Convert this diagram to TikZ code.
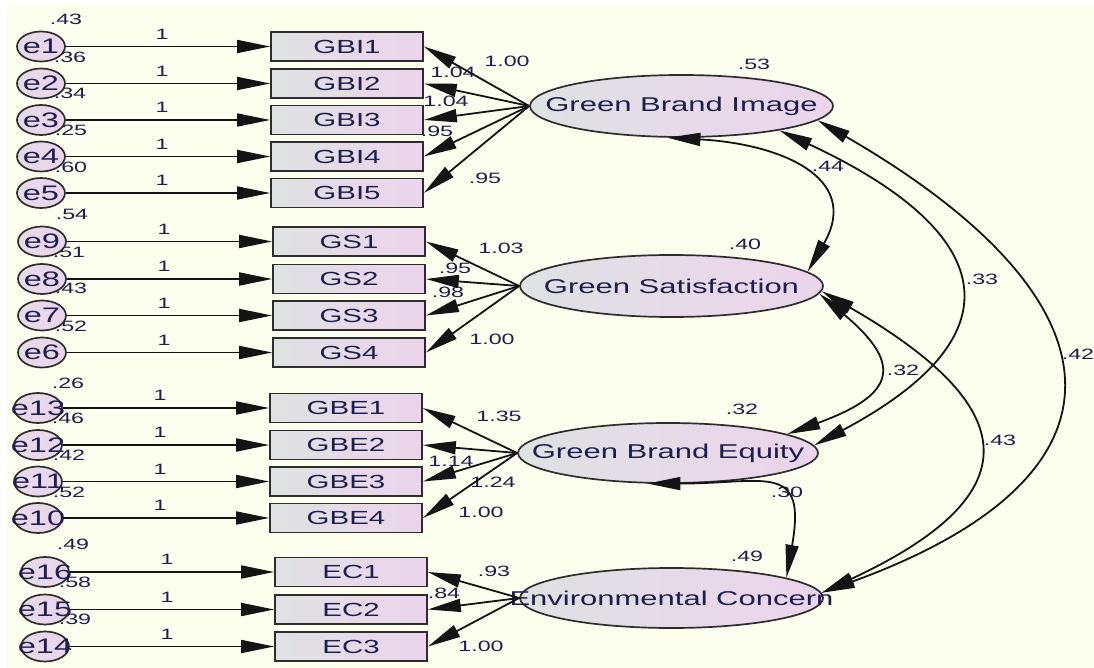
\documentclass[tikz,border=0pt]{standalone}
\usepackage{fontspec}
\setmainfont{Liberation Sans}[FakeStretch=1.55]
\usetikzlibrary{arrows.meta,shapes.geometric}
\definecolor{bg}{RGB}{253,255,238}
\definecolor{lc}{RGB}{20,20,20}
\definecolor{tc}{RGB}{30,30,80}
\definecolor{bxL}{RGB}{222,226,226}
\definecolor{bxR}{RGB}{236,212,236}
\definecolor{edgec}{RGB}{45,45,45}
\begin{document}
\begin{tikzpicture}[x=1pt,y=1pt,
  >={Triangle[length=33pt,width=13pt]},
  errc/.style={ellipse, draw=edgec, line width=1.7pt, minimum width=48pt, minimum height=30pt, inner sep=0pt, left color=bxL!50!bxR, right color=bxR},
  et/.style={text=tc, font=\fontsize{21}{24}\selectfont, inner sep=0pt},
  bx/.style={rectangle, draw=edgec, line width=1.7pt, minimum width=152pt, minimum height=29pt, inner sep=0pt, left color=bxL, right color=bxR, text=tc, font=\fontsize{19}{22}\selectfont},
  lat/.style={ellipse, draw=edgec, line width=1.7pt, inner sep=0pt, left color=bxL, right color=bxR},
  lt/.style={text=tc, font=\fontsize{20}{24}\selectfont, inner sep=0pt},
  num/.style={text=tc, font=\fontsize{15}{18}\selectfont, inner sep=0pt},
  ld/.style={draw=lc, line width=1.8pt},
  cov/.style={draw=lc, line width=1.8pt, <->}
]
\useasboundingbox (0,0) rectangle (1094,-668);
\fill[white] (0,0) rectangle (1094,-668);
\fill[bg] (7,-4.5) rectangle (1094,-668);

% error variances
\foreach \x/\y/\t [count=\i] in {66/19/.43,70/57/.36,70/93/.34,71/130/.25,71/167/.60,
  72/214/.54,69/252/.51,71/288/.43,71/326/.52,
  68/383/.26,68/418/.46,69/455/.42,69/492/.52,
  73/544/.49,75/582/.58,75/619/.39}
  \node[num] (ev\i) at (\x,-\y) {\t};
% fixed paths "1"
\foreach \x/\y [count=\i] in {162/34,162/71,162/107.5,162/144,162/180.5,
  164/229,164/266.5,164/303,164/340,
  160/395.5,160/432.5,160/469,160/505.5,
  167/559.5,167/597,167/634}
  \node[num] (one\i) at (\x,-\y) {1};
% loadings
\foreach \x/\y/\t [count=\i] in {507/61/1.00,453/72/1.04,446/101/1.04,437/131/.95,485/178/.95,
  501/248/1.03,455/268/.95,448/292/.98,492/339/1.00,
  499/416/1.35,451/461/1.14,493/482/1.24,481/512/1.00,
  494/571/.93,444/593/.84,481/646/1.00}
  \node[num] (ld\i) at (\x,-\y) {\t};
% latent variances and covariances
\foreach \x/\y/\t [count=\i] in {754/64/.53,745/244/.40,742/409/.32,747/556/.49,
  828/166/.44,982/279/.33,1078/354/.42,903/370/.32,1000/440/.43,787/492/.30}
  \node[num] (lv\i) at (\x,-\y) {\t};

% error circles
\foreach \n/\x/\y in {e1/41/46.5,e2/41/83.5,e3/41/120,e4/41/156.5,e5/41/193,
  e9/42/241.5,e8/42/279,e7/42/315.5,e6/42/352.5,
  e13/38/408,e12/38/445,e11/38/481.5,e10/38/518,
  e16/45/572,e15/45/609.5,e14/45/646.5}
  \node[errc, label={[et]center:\n}] (\n) at (\x,-\y) {};

% indicator boxes
\foreach \n/\x/\y in {GBI1/347/46.5,GBI2/347/83.5,GBI3/347/120,GBI4/347/156.5,GBI5/347/193,
  GS1/349/241.5,GS2/349/279,GS3/349/315.5,GS4/349/352.5,
  GBE1/346/408,GBE2/346/445,GBE3/346/481.5,GBE4/346/518,
  EC1/351/572,EC2/351/609.5,EC3/351/646.5}
  \node[bx] (\n) at (\x,-\y) {\n};

% latent variables
\node[lat, minimum width=303pt, minimum height=62pt, label={[lt]center:Green Brand Image}] (GBI) at (681.5,-106) {};
\node[lat, minimum width=303pt, minimum height=62pt, label={[lt]center:Green Satisfaction}] (GS) at (671.5,-286) {};
\node[lat, minimum width=300pt, minimum height=60pt, label={[lt]center:Green Brand Equity}] (GBE) at (668,-453) {};
\node[lat, minimum width=303pt, minimum height=60pt, label={[lt]center:Environmental Concern}] (EC) at (671.5,-598) {};

% error -> indicator
\foreach \e/\b in {e1/GBI1,e2/GBI2,e3/GBI3,e4/GBI4,e5/GBI5,e9/GS1,e8/GS2,e7/GS3,e6/GS4,
  e13/GBE1,e12/GBE2,e11/GBE3,e10/GBE4,e16/EC1,e15/EC2,e14/EC3}
  \draw[ld,->] (\e) -- (\b);

% latent -> indicator
\foreach \b in {GBI1,GBI2,GBI3,GBI4,GBI5} \draw[ld,->] (GBI.west) -- (\b.east);
\foreach \b in {GS1,GS2,GS3,GS4} \draw[ld,->] (GS.west) -- (\b.east);
\foreach \b in {GBE1,GBE2,GBE3,GBE4} \draw[ld,->] (GBE.west) -- (\b.east);
\foreach \b in {EC1,EC2,EC3} \draw[ld,->] (EC.west) -- (\b.east);

% covariances
\draw[cov] (GBI.-114) to[out=-3,in=60,looseness=1.45] (GS.6);
\draw[cov] (GBI.-14) to[out=-25,in=28,looseness=1.92] (GBE.3);
\draw[cov] (GBI.-6) to[out=-30,in=20,looseness=1.9] (EC.2);
\draw[cov] (GS.-3) to[out=-40,in=20,looseness=2.0] (GBE.9);
\draw[cov] (GS.-2) to[out=-30,in=25,looseness=1.98] (EC.2);
\draw[cov] (GBE.-124) to[out=0,in=80,looseness=1.8] (EC.10);
\end{tikzpicture}
\end{document}
